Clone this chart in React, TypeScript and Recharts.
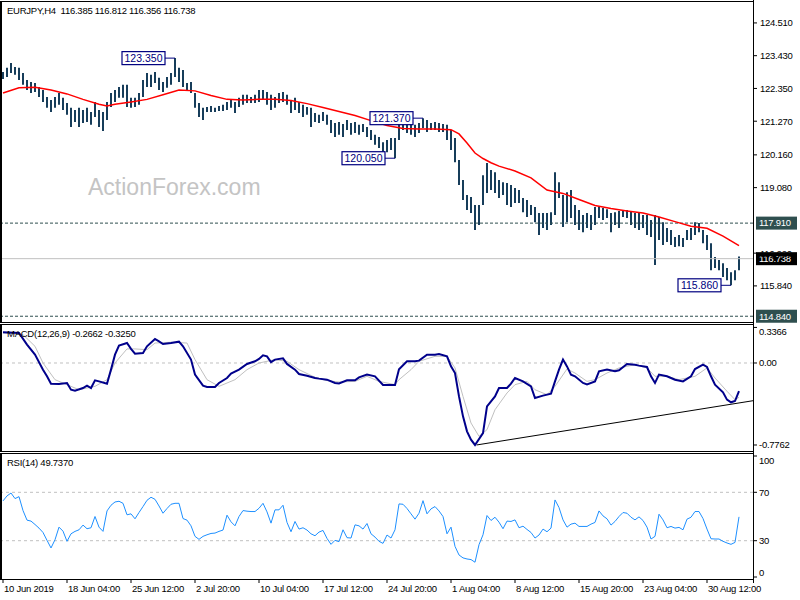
import React from 'react';
import { ComposedChart, Bar, Line, XAxis, YAxis, ReferenceLine, ReferenceDot } from 'recharts';

// ---------- data ----------
const highs = [
  122.89, 123.03, 123.19, 123.06, 123.03, 122.86, 122.63, 122.56, 122.53, 122.40,
  122.30, 122.07, 121.97, 122.07, 122.20, 122.04, 121.87, 121.71, 121.64, 121.71,
  121.64, 121.71, 121.57, 121.90, 121.64, 121.57, 121.90, 122.20, 122.30, 122.40,
  122.47, 122.47, 122.04, 122.04, 122.20, 122.63, 122.86, 122.80, 122.89, 122.70,
  122.56, 122.73, 122.86, 123.35, 123.03, 122.96, 122.53, 122.56, 122.20, 121.87,
  121.71, 121.74, 121.77, 121.71, 121.77, 121.81, 121.90, 121.97, 121.90, 122.04,
  122.14, 122.14, 122.07, 122.14, 122.30, 122.30, 122.23, 122.14, 122.07, 122.20,
  122.23, 122.14, 121.97, 122.04, 121.90, 121.81, 121.74, 121.71, 121.54, 121.48,
  121.57, 121.48, 121.31, 121.21, 121.24, 121.18, 121.31, 121.21, 121.24, 121.15,
  121.18, 121.08, 120.98, 120.82, 120.75, 120.58, 120.65, 120.72, 120.72, 121.31,
  121.31, 121.24, 121.21, 121.15, 121.21, 121.37, 121.31, 121.21, 121.24, 121.21,
  121.18, 121.15, 120.98, 120.72, 119.99, 119.33, 118.84, 118.77, 118.51, 118.51,
  119.49, 119.89, 119.66, 119.59, 119.33, 119.26, 119.23, 119.17, 119.07, 119.00,
  118.74, 118.67, 118.51, 118.44, 118.24, 118.24, 118.24, 118.27, 119.59, 119.26,
  118.84, 118.93, 119.00, 118.51, 118.34, 118.18, 118.24, 118.18, 118.44, 118.44,
  118.41, 118.37, 118.24, 118.27, 118.31, 118.34, 118.34, 118.31, 118.24, 118.24,
  118.18, 118.18, 118.01, 118.18, 118.11, 117.94, 117.75, 117.68, 117.45, 117.52,
  117.42, 117.68, 117.75, 117.94, 117.91, 117.68, 117.52, 117.25, 116.79, 116.69,
  116.59, 116.43, 116.29, 116.36, 116.81,
];

const lows = [
  122.66, 122.73, 122.86, 122.80, 122.63, 122.47, 122.30, 122.20, 122.23, 122.07,
  121.90, 121.71, 121.57, 121.71, 121.81, 121.64, 121.48, 121.08, 121.24, 121.08,
  121.21, 121.24, 121.15, 121.41, 121.08, 120.95, 121.31, 121.74, 121.90, 122.04,
  122.04, 121.74, 121.71, 121.74, 121.81, 122.07, 122.40, 122.40, 122.53, 122.30,
  122.23, 122.37, 122.47, 122.73, 122.56, 122.40, 122.30, 122.20, 121.71, 121.41,
  121.31, 121.57, 121.57, 121.57, 121.61, 121.61, 121.64, 121.71, 121.54, 121.74,
  121.81, 121.87, 121.87, 121.87, 121.90, 121.97, 121.81, 121.64, 121.71, 121.87,
  121.90, 121.81, 121.54, 121.64, 121.54, 121.41, 121.48, 121.08, 121.24, 121.21,
  121.28, 121.15, 120.88, 120.75, 120.82, 120.75, 120.98, 120.82, 120.88, 120.82,
  120.91, 120.75, 120.65, 120.49, 120.39, 120.09, 120.25, 120.32, 120.05, 120.65,
  120.98, 120.88, 120.82, 120.75, 120.88, 121.05, 120.91, 120.98, 120.98, 120.91,
  120.91, 120.65, 120.32, 119.92, 119.17, 118.67, 118.34, 118.24, 117.68, 117.85,
  118.51, 118.90, 119.00, 118.90, 118.74, 118.84, 118.51, 118.44, 118.57, 118.57,
  118.27, 118.11, 118.18, 117.94, 117.52, 117.75, 117.68, 117.85, 118.18, 118.74,
  117.78, 117.94, 118.08, 117.85, 117.68, 117.61, 117.75, 117.68, 117.85, 118.08,
  118.01, 118.08, 117.61, 117.85, 117.75, 118.11, 118.08, 117.85, 117.75, 117.68,
  117.75, 117.52, 117.45, 116.53, 117.35, 117.19, 117.29, 117.19, 117.12, 117.15,
  117.12, 117.35, 117.35, 117.52, 117.61, 117.25, 117.02, 116.36, 116.43, 116.36,
  116.13, 116.03, 115.86, 116.03, 116.36,
];

const maPoints: [number, number][] = [
  [0, 122.20], [4, 122.37], [8, 122.39], [12, 122.30], [16, 122.17], [20, 121.99],
  [24, 121.83], [26, 121.77], [28, 121.83], [32, 121.90], [36, 121.99], [40, 122.14],
  [44, 122.30], [48, 122.27], [52, 122.12], [56, 121.99], [60, 121.97], [64, 121.99],
  [68, 121.99], [72, 121.95], [76, 121.85], [80, 121.72], [84, 121.59], [88, 121.46],
  [92, 121.29], [96, 121.13], [100, 121.03], [104, 121.01], [108, 121.01], [112, 120.99],
  [114, 120.85], [116, 120.55], [118, 120.22], [120, 120.04], [122, 119.90], [124, 119.79],
  [128, 119.63], [132, 119.40], [136, 119.00], [140, 118.89], [144, 118.69], [148, 118.49],
  [152, 118.39], [156, 118.31], [160, 118.24], [164, 118.11], [168, 117.96], [172, 117.81],
  [176, 117.74], [180, 117.48], [184, 117.17],
];

const macdPoints: [number, number][] = [
  [0, 0.290], [4, 0.284], [6, 0.174], [8, 0.079], [10, -0.063], [11, -0.126], [12, -0.196],
  [14, -0.199], [16, -0.189], [17, -0.253], [18, -0.262], [20, -0.237], [21, -0.215],
  [22, -0.237], [23, -0.164], [24, -0.174], [26, -0.196], [27, -0.063], [28, 0.079],
  [29, 0.164], [31, 0.189], [32, 0.133], [33, 0.088], [35, 0.095], [36, 0.158], [38, 0.227],
  [39, 0.205], [40, 0.180], [42, 0.189], [44, 0.202], [45, 0.158], [47, 0.032], [48, -0.110],
  [50, -0.215], [51, -0.227], [53, -0.227], [54, -0.189], [56, -0.142], [57, -0.101],
  [59, -0.063], [61, -0.009], [63, 0.016], [64, 0.038], [65, 0.073], [66, 0.063], [67, 0.009],
  [68, 0.032], [70, 0.044], [71, -0.009], [73, -0.063], [74, -0.104], [76, -0.120],
  [78, -0.142], [79, -0.148], [81, -0.158], [83, -0.189], [84, -0.193], [86, -0.164],
  [88, -0.164], [89, -0.136], [91, -0.110], [93, -0.126], [95, -0.208], [98, -0.208],
  [99, -0.060], [101, 0.016], [103, 0.016], [104, 0.022], [106, 0.079], [108, 0.079],
  [109, 0.085], [111, 0.063], [112, -0.032], [113, -0.095], [114, -0.316], [115, -0.505],
  [116, -0.647], [117, -0.726], [118, -0.776], [120, -0.663], [121, -0.410], [123, -0.316],
  [124, -0.237], [126, -0.237], [127, -0.196], [128, -0.142], [130, -0.174], [132, -0.221],
  [133, -0.331], [135, -0.309], [137, -0.290], [138, -0.174], [139, -0.063], [140, 0.032],
  [141, -0.032], [142, -0.110], [143, -0.126], [145, -0.189], [146, -0.202], [148, -0.174],
  [149, -0.079], [151, -0.063], [153, -0.079], [154, -0.069], [156, -0.009], [158, -0.016],
  [159, -0.025], [161, -0.038], [162, -0.126], [163, -0.189], [164, -0.110], [166, -0.126],
  [167, -0.142], [168, -0.158], [170, -0.174], [172, -0.126], [173, -0.057], [175, -0.016],
  [176, -0.038], [177, -0.126], [178, -0.205], [180, -0.278], [181, -0.347], [182, -0.372],
  [183, -0.360], [184, -0.266],
];

const signalPoints: [number, number][] = [
  [0, 0.284], [5, 0.268], [8, 0.158], [10, 0.0], [13, -0.158], [16, -0.205], [19, -0.253],
  [23, -0.221], [26, -0.158], [28, 0.0], [31, 0.133], [33, 0.133], [36, 0.126], [38, 0.189],
  [42, 0.196], [46, 0.189], [48, 0.032], [51, -0.158], [54, -0.221], [58, -0.158], [61, -0.063],
  [64, 0.0], [68, 0.032], [71, 0.016], [74, -0.063], [78, -0.136], [81, -0.167], [84, -0.180],
  [88, -0.174], [91, -0.126], [94, -0.174], [98, -0.205], [99, -0.158], [102, -0.063],
  [104, 0.016], [108, 0.063], [111, 0.063], [113, -0.047], [115, -0.316], [117, -0.568],
  [119, -0.694], [121, -0.631], [123, -0.442], [126, -0.284], [128, -0.205], [131, -0.174],
  [133, -0.253], [136, -0.300], [138, -0.221], [141, -0.057], [143, -0.095], [146, -0.174],
  [148, -0.158], [151, -0.095], [154, -0.047], [158, -0.016], [161, -0.047], [163, -0.126],
  [166, -0.126], [169, -0.158], [173, -0.126], [176, -0.047], [178, -0.142], [181, -0.268],
  [183, -0.347], [184, -0.325],
];

const rsiValues = [
  62.9, 67.0, 69.4, 64.8, 66.4, 54.9, 47.0, 46.2, 43.4, 40.4,
  36.8, 30.3, 24.0, 30.8, 41.2, 37.9, 29.5, 35.7, 37.7, 39.0,
  42.9, 39.9, 40.7, 50.0, 41.2, 37.7, 54.6, 59.3, 62.0, 62.6,
  60.9, 51.4, 52.2, 48.1, 53.3, 58.2, 63.4, 65.9, 64.2, 58.7,
  52.7, 56.6, 60.1, 60.9, 60.9, 48.3, 47.0, 42.3, 33.6, 31.1,
  33.6, 34.9, 36.0, 36.3, 37.7, 38.8, 51.1, 45.6, 42.3, 50.0,
  54.9, 54.4, 54.1, 54.1, 56.8, 60.9, 53.8, 44.5, 55.5, 55.5,
  59.3, 45.1, 37.4, 45.9, 39.6, 40.7, 38.8, 35.7, 34.1, 37.1,
  38.5, 31.9, 27.0, 30.3, 29.2, 39.0, 32.5, 32.2, 43.1, 42.3,
  39.6, 44.2, 35.7, 33.0, 29.5, 27.8, 34.7, 32.2, 39.0, 60.4,
  60.1, 56.6, 52.2, 47.8, 52.7, 63.1, 52.2, 56.3, 58.2, 54.6,
  50.0, 35.7, 41.2, 25.3, 18.2, 15.8, 14.9, 14.4, 12.2, 26.7,
  34.9, 50.8, 46.7, 49.4, 45.3, 39.9, 46.2, 45.9, 47.2, 40.7,
  42.0, 39.3, 36.8, 32.2, 34.7, 39.6, 37.4, 40.4, 63.7, 57.4,
  47.2, 41.2, 43.7, 44.5, 41.8, 41.8, 41.8, 43.7, 45.1, 54.6,
  50.5, 48.1, 42.9, 45.9, 50.0, 53.3, 52.7, 49.4, 47.2, 49.7,
  46.7, 41.2, 31.4, 33.6, 51.9, 47.2, 40.7, 41.8, 40.4, 41.0,
  39.0, 47.8, 49.4, 54.1, 54.1, 48.3, 39.6, 31.6, 31.4, 31.4,
  29.5, 28.1, 27.0, 28.6, 49.7,
];

const timeTickIdx = [0, 16, 32, 48, 64, 80, 96, 112, 128, 144, 160, 176];
const timeLabels = [
  '10 Jun 2019', '18 Jun 04:00', '25 Jun 12:00', '2 Jul 20:00', '10 Jul 04:00', '17 Jul 12:00',
  '24 Jul 20:00', '1 Aug 04:00', '8 Aug 12:00', '15 Aug 20:00', '23 Aug 04:00', '30 Aug 12:00',
];

const priceTicks = [124.51, 123.43, 122.35, 121.27, 120.16, 119.08, 116.92, 115.84];
const macdTicks = [0.3366, 0, -0.7762];
const rsiTicks = [100, 70, 30, 0];
const rsiLevels = [70, 30];

const resistanceLevel = 117.91;
const supportLevel = 114.84;
const lastPrice = 116.738;
const ohlc = [116.385, 116.812, 116.356, 116.738];
const macdNow = [-0.2662, -0.325];
const rsiNow = 49.737;

const callouts = [
  { i: 43, price: 123.35 },
  { i: 105, price: 121.37 },
  { i: 98, price: 120.05 },
  { i: 182, price: 115.86 },
];

const trendStart = { i: 118.4, v: -0.776 };
const trendEnd = { i: 187.5, v: -0.357 };

// ---------- table ----------
const maMap = new Map(maPoints);
const macdMap = new Map(macdPoints);
const sigMap = new Map(signalPoints);
const rows = highs.map((h, i) => ({
  i,
  range: [lows[i], h],
  ma: maMap.has(i) ? maMap.get(i) : null,
  macd: macdMap.has(i) ? macdMap.get(i) : null,
  signal: sigMap.has(i) ? sigMap.get(i) : null,
  rsi: rsiValues[i],
}));

// ---------- styles ----------
const FONT = "'Liberation Sans', Arial, sans-serif";
const TXT: React.CSSProperties = { fontFamily: FONT, fontSize: 9.5, letterSpacing: -0.25 };
const X_DOMAIN: [number, number] = [-0.5, 187.5];
const BAR_COLOR = '#173d5a';

function YTick(props: any) {
  const { x, y, payload, fmt, shift } = props;
  const v = payload.value;
  return (
    <text x={x} y={y + (shift ? shift(v) : 0)} dy="0.355em" fill="#000" textAnchor="start" style={TXT}>
      {fmt(v)}
    </text>
  );
}

function XTick(props: any) {
  const { x, y, payload } = props;
  const k = timeTickIdx.indexOf(payload.value);
  return (
    <g>
      <line x1={x} x2={x} y1={y + 2} y2={y + 6} stroke="#000" />
      <text x={x + 1} y={y + 15} fill="#000" textAnchor="start" style={TXT}>
        {timeLabels[k]}
      </text>
    </g>
  );
}

function tag(text: string, bg: string) {
  return (props: any) => {
    const vb = props.viewBox || {};
    const x = vb.x + vb.width + 3;
    const y = vb.y;
    return (
      <g>
        <rect x={x} y={y - 6.5} width={41} height={13} fill={bg} />
        <text x={x + 3} y={y} dy="0.355em" fill="#fff" style={TXT}>
          {text}
        </text>
      </g>
    );
  };
}

function calloutShape(text: string) {
  return (p: any) => {
    const { cx, cy } = p;
    const w = 43;
    const h = 13;
    const right = cx - 10;
    return (
      <g>
        <line x1={right} x2={cx} y1={cy} y2={cy} stroke="#000080" strokeWidth={1} />
        <rect x={right - w} y={cy - h / 2} width={w} height={h} fill="#fff" stroke="#000080" strokeWidth={1.2} />
        <text x={right - w / 2} y={cy} dy="0.355em" textAnchor="middle" fill="#000080" style={{ ...TXT, fontSize: 10.5, letterSpacing: 0 }}>
          {text}
        </text>
      </g>
    );
  };
}

const abs = (left: number, top: number, extra: React.CSSProperties = {}): React.CSSProperties => ({
  position: 'absolute',
  left,
  top,
  ...extra,
});

export default function App() {
  return (
    <div style={{ position: 'absolute', left: 0, top: 0, width: 800, height: 600, background: '#fff', overflow: 'hidden', fontFamily: FONT }}>
      {/* Main price panel */}
      <div style={abs(0, 0)}>
        <ComposedChart width={800} height={324} data={rows} margin={{ top: 2, right: 0, bottom: 2, left: 1 }}>
          <XAxis dataKey="i" type="number" domain={X_DOMAIN} hide allowDataOverflow />
          <YAxis
            orientation="right"
            width={47}
            type="number"
            domain={[114.65, 125.2]}
            allowDataOverflow
            ticks={priceTicks}
            interval={0}
            axisLine={false}
            tickSize={4}
            tickMargin={3}
            tickLine={{ stroke: '#000' }}
            tick={(p: any) => <YTick {...p} fmt={(v: number) => v.toFixed(3)} />}
          />
          <ReferenceLine y={lastPrice} stroke="#c0c0c0" strokeWidth={1} label={tag(lastPrice.toFixed(3), '#000')} />
          <ReferenceLine y={resistanceLevel} stroke="#2f4f4f" strokeDasharray="3 2" label={tag(resistanceLevel.toFixed(3), '#2f4f4f')} />
          <ReferenceLine y={supportLevel} stroke="#2f4f4f" strokeDasharray="3 2" label={tag(supportLevel.toFixed(3), '#2f4f4f')} />
          {callouts.map((c) => (
            <ReferenceDot key={c.i} x={c.i} y={c.price} r={0} shape={calloutShape(c.price.toFixed(3))} />
          ))}
          <Bar dataKey="range" barSize={2} fill={BAR_COLOR} isAnimationActive={false} />
          <Line dataKey="ma" type="linear" stroke="#ff0000" strokeWidth={1.5} dot={false} connectNulls isAnimationActive={false} />
        </ComposedChart>
      </div>

      {/* MACD panel */}
      <div style={abs(0, 322)}>
        <ComposedChart width={800} height={131} data={rows} margin={{ top: 2, right: 0, bottom: 2, left: 1 }}>
          <XAxis dataKey="i" type="number" domain={X_DOMAIN} hide allowDataOverflow />
          <YAxis
            orientation="right"
            width={47}
            type="number"
            domain={[-0.833, 0.369]}
            allowDataOverflow
            ticks={macdTicks}
            interval={0}
            axisLine={false}
            tickSize={4}
            tickMargin={2}
            tickLine={{ stroke: '#000' }}
            tick={(p: any) => (
              <YTick {...p} fmt={(v: number) => (v === 0 ? '0.00' : v.toFixed(4))} shift={(v: number) => (v > 0.3 ? 4 : 0)} />
            )}
          />
          <ReferenceLine y={0} stroke="#c0c0c0" strokeDasharray="3 3" />
          <ReferenceLine
            segment={[{ x: trendStart.i, y: trendStart.v }, { x: trendEnd.i, y: trendEnd.v }]}
            stroke="#000"
            strokeWidth={1}
            ifOverflow="visible"
          />
          <Line dataKey="signal" type="linear" stroke="#c0c0c0" strokeWidth={1} dot={false} connectNulls isAnimationActive={false} />
          <Line dataKey="macd" type="linear" stroke="#00008b" strokeWidth={2} dot={false} connectNulls isAnimationActive={false} />
        </ComposedChart>
      </div>

      {/* RSI panel */}
      <div style={abs(0, 450)}>
        <ComposedChart width={800} height={150} data={rows} margin={{ top: 6, right: 0, bottom: 0, left: 1 }}>
          <XAxis
            dataKey="i"
            type="number"
            domain={X_DOMAIN}
            allowDataOverflow
            ticks={timeTickIdx}
            interval={0}
            height={23}
            tickSize={0}
            tickMargin={0}
            axisLine={false}
            tickLine={false}
            tick={(p: any) => <XTick {...p} />}
          />
          <YAxis
            orientation="right"
            width={47}
            type="number"
            domain={[0, 100]}
            allowDataOverflow
            ticks={rsiTicks}
            interval={0}
            axisLine={false}
            tickSize={4}
            tickMargin={2}
            tickLine={{ stroke: '#000' }}
            tick={(p: any) => (
              <YTick {...p} fmt={(v: number) => String(v)} shift={(v: number) => (v === 100 ? 5 : v === 0 ? -4.5 : 0)} />
            )}
          />
          {rsiLevels.map((l) => (
            <ReferenceLine key={l} y={l} stroke="#c0c0c0" strokeDasharray="3 3" />
          ))}
          <Line dataKey="rsi" type="linear" stroke="#1e90ff" strokeWidth={1} dot={false} isAnimationActive={false} />
        </ComposedChart>
      </div>

      {/* panel frames */}
      <div style={abs(0, 1, { width: 754, height: 322, boxSizing: 'border-box', border: '1px solid #000', borderLeft: '2px solid #000', pointerEvents: 'none' })} />
      <div style={abs(0, 324, { width: 754, height: 128, boxSizing: 'border-box', border: '1px solid #000', borderLeft: '2px solid #000', pointerEvents: 'none' })} />
      <div style={abs(0, 453, { width: 754, height: 127, boxSizing: 'border-box', border: '1px solid #000', borderLeft: '2px solid #000', pointerEvents: 'none' })} />
      <div style={abs(753, 0, { width: 1, height: 583, background: '#000' })} />

      {/* titles */}
      <div style={abs(7, 5.5, { ...TXT, lineHeight: '10px', whiteSpace: 'pre', color: '#000' })}>
        {'EURJPY,H4  ' + ohlc.map((v) => v.toFixed(3)).join(' ')}
      </div>
      <div style={abs(7, 328.5, { ...TXT, lineHeight: '10px', whiteSpace: 'pre', color: '#000' })}>
        {'MACD(12,26,9) ' + macdNow.map((v) => v.toFixed(4)).join(' ')}
      </div>
      <div style={abs(7, 457.5, { ...TXT, lineHeight: '10px', whiteSpace: 'pre', color: '#000' })}>
        {'RSI(14) ' + rsiNow.toFixed(4)}
      </div>
      <div style={abs(88, 176, { fontFamily: FONT, fontSize: 23, lineHeight: '23px', color: '#c4c4c4', whiteSpace: 'pre' })}>
        ActionForex.com
      </div>
    </div>
  );
}
